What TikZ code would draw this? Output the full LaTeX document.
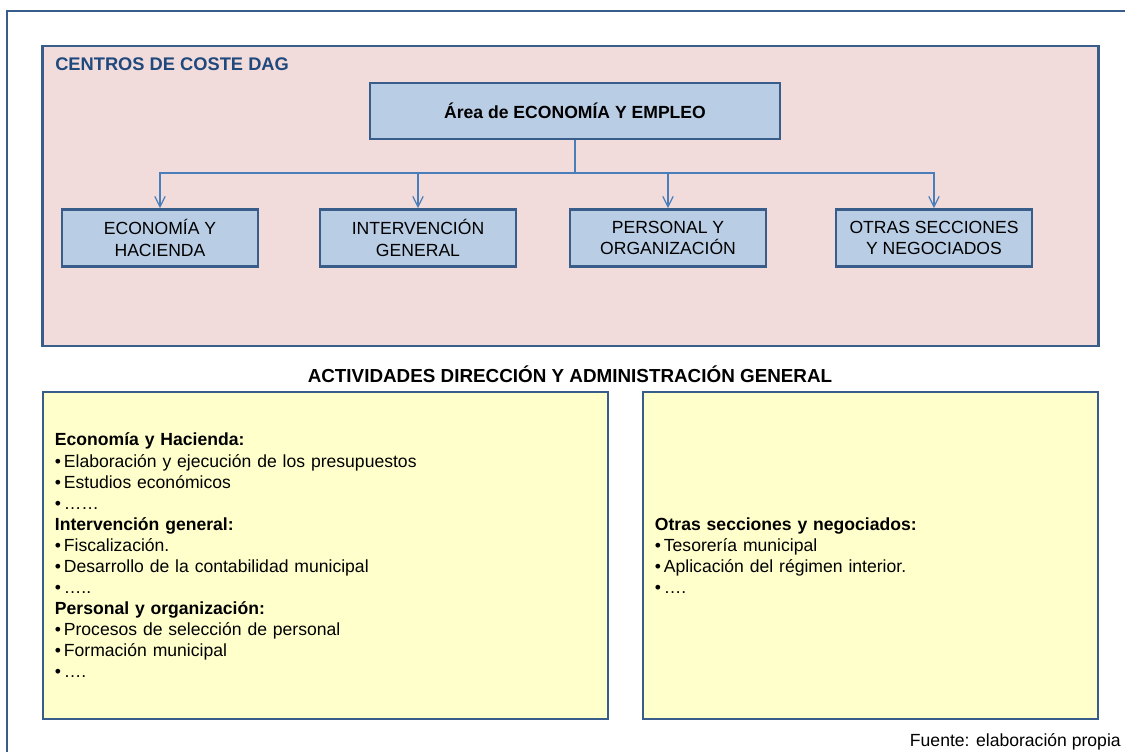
\documentclass[tikz,border=0pt]{standalone}
\usepackage{fontspec}
\setmainfont{Liberation Sans}
\usetikzlibrary{arrows.meta}
\definecolor{boxblue}{HTML}{385D8A}
\definecolor{titleblue}{HTML}{1F497D}
\definecolor{linkblue}{HTML}{4A7EBB}
\definecolor{pinkbg}{HTML}{F2DCDB}
\definecolor{unitblue}{HTML}{B9CDE5}
\definecolor{actyellow}{HTML}{FFFFCC}
\newcommand{\vin}{\textbullet\hspace{2pt}}
\tikzset{
    txt/.style={font=\fontsize{12.5}{15}\selectfont},
    bluebox/.style={draw=boxblue, line width=2pt},
    centros/.style={style=bluebox, fill=pinkbg, minimum width=26.375cm, minimum height=7.5cm},
    area/.style={style=bluebox, style=txt, fill=unitblue, minimum width=10.25cm, minimum height=1.4cm},
    unidad/.style={style=bluebox, style=txt, fill=unitblue, align=center, minimum width=4.9cm, minimum height=1.42cm, inner sep=1pt},
    actividad/.style={style=bluebox, style=txt, fill=actyellow, align=left, minimum height=8.175cm, inner xsep=0.3cm},
    enlace/.style={draw=linkblue, line width=0.9pt},
    flecha/.style={style=enlace, -{Straight Barb[length=2.6mm, width=2.6mm]}}
}
\tikzstyle{rotulo}=[txt, inner sep=0]
\begin{document}
\begin{tikzpicture}[x=0.025cm, y=-0.025cm]
  \useasboundingbox (0,0) rectangle (1125,751);
  \clip (0,0) rectangle (1125,751);
  \draw[bluebox] (7,800) -- (7,11) -- (1200,11);

  \node[centros] (dag) at (570.5,196) {};
  \node[rotulo, anchor=base west, text=titleblue, font=\fontsize{13}{15}\selectfont\bfseries] (dagtitle) at (55,70) {CENTROS DE COSTE DAG};

  \node[area] (area) at (575,111) {\textbf{Área de ECONOMÍA Y EMPLEO}};
  \coordinate (reparto) at (575,173);
  \node[unidad] (eco) at (160,238) {ECONOMÍA Y\\HACIENDA};
  \node[unidad] (int) at (418,238) {INTERVENCIÓN\\GENERAL};
  \node[unidad] (per) at (668,238) {PERSONAL Y\\ORGANIZACIÓN};
  \node[unidad] (otr) at (934,238) {OTRAS SECCIONES\\Y NEGOCIADOS};

  \draw[enlace] (area) to (reparto);
  \draw[flecha] (reparto) -| (eco);
  \draw[flecha] (reparto) -| (int);
  \draw[flecha] (reparto) -| (per);
  \draw[flecha] (reparto) -| (otr);

  \node[rotulo, anchor=base, font=\fontsize{13.4}{15}\selectfont\bfseries] (actitle) at (570,382) {ACTIVIDADES DIRECCIÓN Y ADMINISTRACIÓN GENERAL};

  \node[actividad, text width=13.525cm] (acta) at (325.5,555.5) {%
    \textbf{Economía y Hacienda:}\\
    \vin Elaboración y ejecución de los presupuestos\\
    \vin Estudios económicos\\
    \vin ……\\
    \textbf{Intervención general:}\\
    \vin Fiscalización.\\
    \vin Desarrollo de la contabilidad municipal\\
    \vin …..\\
    \textbf{Personal y organización:}\\
    \vin Procesos de selección de personal\\
    \vin Formación municipal\\
    \vin ….};
  \node[actividad, text width=10.775cm] (actb) at (870.5,555.5) {%
    \textbf{Otras secciones y negociados:}\\
    \vin Tesorería municipal\\
    \vin Aplicación del régimen interior.\\
    \vin ….};

  \node[rotulo, anchor=base east] (fuente) at (1121,746) {Fuente: elaboración propia};
\end{tikzpicture}
\end{document}
